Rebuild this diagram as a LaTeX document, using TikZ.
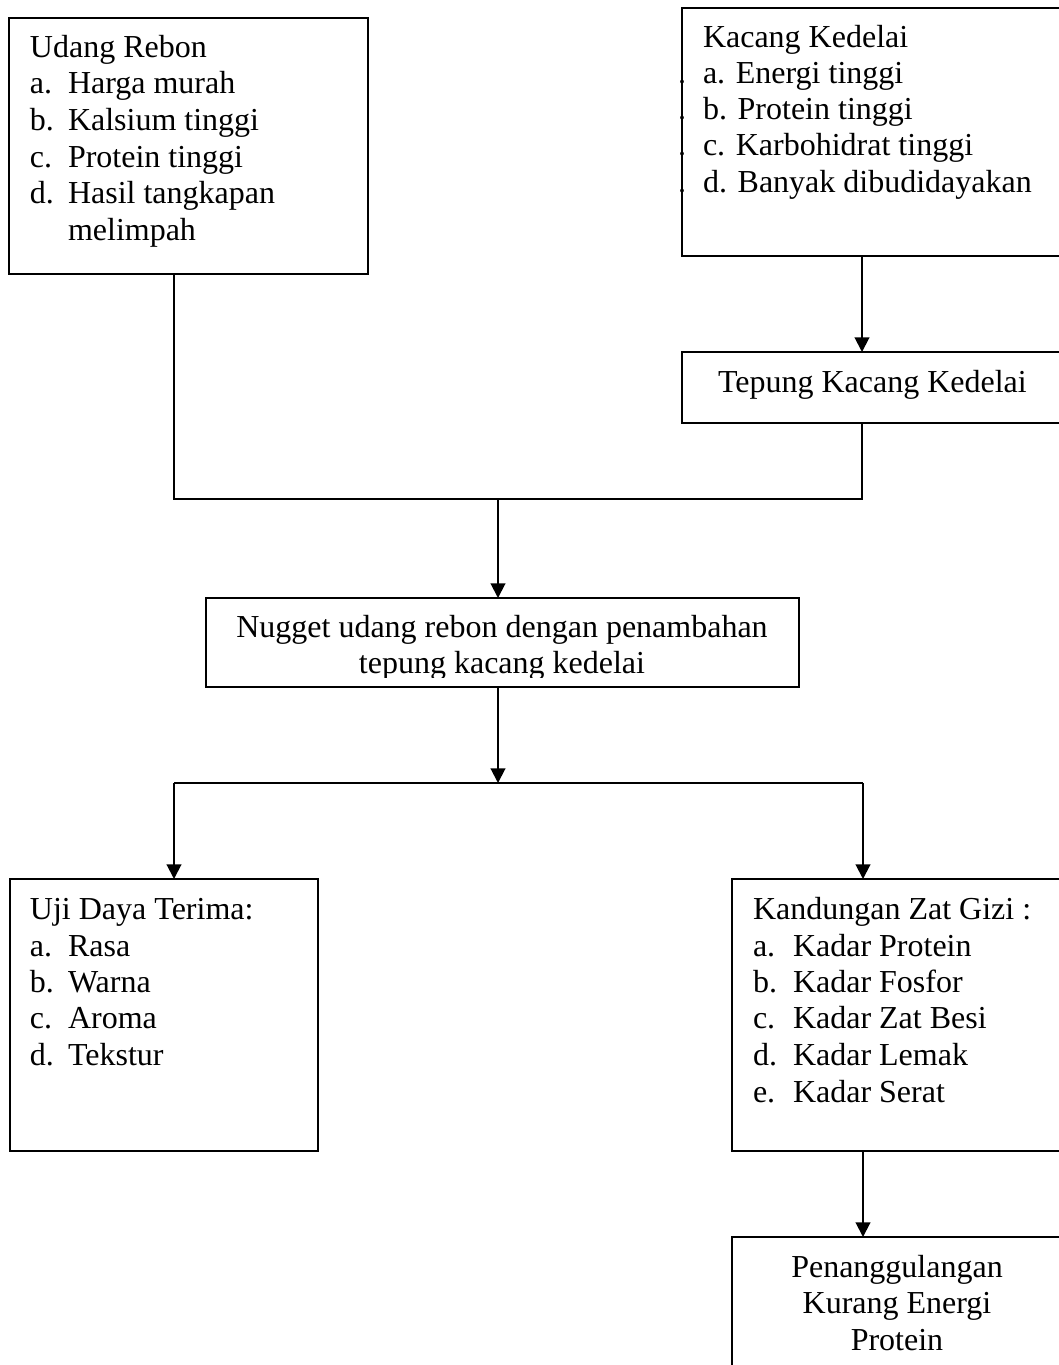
\documentclass[tikz,border=0pt]{standalone}
\usepackage{fontspec}
\setmainfont{Liberation Serif}
\usetikzlibrary{arrows.meta}
\tikzset{
  box/.style={draw, line width=1.5pt, rectangle, inner sep=0pt, outer sep=0pt, anchor=north west},
  txt/.style={anchor=base west, inner sep=0pt, outer sep=0pt, font=\fontsize{24}{28}\selectfont},
  ctxt/.style={anchor=base, inner sep=0pt, outer sep=0pt, font=\fontsize{24}{28}\selectfont},
  dtxt/.style={anchor=base east, inner sep=0pt, outer sep=0pt, font=\fontsize{24}{28}\selectfont},
  conn/.style={line width=1.5pt},
  arr/.style={line width=1.5pt, -{Triangle[length=11pt,width=11pt]}}
}
\begin{document}
\begin{tikzpicture}[x=0.75pt,y=-0.75pt]
\useasboundingbox (0,0) rectangle (1059,1365);
% boxes
\node[box, minimum width=359*0.75pt, minimum height=256*0.75pt] (udang) at (9,18) {};
\node[box, minimum width=420*0.75pt, minimum height=248*0.75pt] (kacang) at (682,8) {};
\node[box, minimum width=420*0.75pt, minimum height=71*0.75pt] (tepung) at (682,352) {};
\node[box, minimum width=593*0.75pt, minimum height=89*0.75pt] (nugget) at (206,598) {};
\node[box, minimum width=308*0.75pt, minimum height=272*0.75pt] (uji) at (10,879) {};
\node[box, minimum width=420*0.75pt, minimum height=272*0.75pt] (gizi) at (732,879) {};
\node[box, minimum width=420*0.75pt, minimum height=200*0.75pt] (kep) at (732,1237) {};

% Udang Rebon text
\node[txt] (u0) at (30,57) {Udang Rebon};
\node[txt] (u1a) at (30,93) {a.};  \node[txt] (u1) at (68,93) {Harga murah};
\node[txt] (u2a) at (30,130) {b.}; \node[txt] (u2) at (68,130) {Kalsium tinggi};
\node[txt] (u3a) at (30,167) {c.}; \node[txt] (u3) at (68,167) {Protein tinggi};
\node[txt] (u4a) at (30,203) {d.}; \node[txt] (u4) at (68,203) {Hasil tangkapan};
\node[txt] (u5) at (68,240) {melimpah};

% Kacang Kedelai text
\node[txt] (k0) at (703,47) {Kacang Kedelai};
\node[txt] (k1) at (703,83) {a. Energi tinggi};
\node[txt] (k2) at (703,119) {b. Protein tinggi};
\node[txt] (k3) at (703,155) {c. Karbohidrat tinggi};
\node[txt] (k4) at (703,192) {d. Banyak dibudidayakan};
\node[dtxt] (kd1) at (686,83) {.};
\node[dtxt] (kd2) at (686,119) {.};
\node[dtxt] (kd3) at (686,155) {.};
\node[dtxt] (kd4) at (686,192) {.};

% Tepung
\node[txt] (t0) at (718,392) {Tepung Kacang Kedelai};

% Nugget
\begin{scope}
\clip (206,598) rectangle (799,677);
\node[ctxt] (n1) at (502,637) {Nugget udang rebon dengan penambahan};
\node[ctxt] (n2) at (502,673) {tepung kacang kedelai};
\end{scope}

% Uji
\node[txt] (j0) at (30,919) {Uji Daya Terima:};
\node[txt] (j1a) at (30,956) {a.};  \node[txt] (j1) at (68,956) {Rasa};
\node[txt] (j2a) at (30,992) {b.};  \node[txt] (j2) at (68,992) {Warna};
\node[txt] (j3a) at (30,1028) {c.}; \node[txt] (j3) at (68,1028) {Aroma};
\node[txt] (j4a) at (30,1065) {d.}; \node[txt] (j4) at (68,1065) {Tekstur};

% Gizi
\node[txt] (g0) at (753,919) {Kandungan Zat Gizi :};
\node[txt] (g1a) at (753,956) {a.};  \node[txt] (g1) at (793,956) {Kadar Protein};
\node[txt] (g2a) at (753,992) {b.};  \node[txt] (g2) at (793,992) {Kadar Fosfor};
\node[txt] (g3a) at (753,1028) {c.}; \node[txt] (g3) at (793,1028) {Kadar Zat Besi};
\node[txt] (g4a) at (753,1065) {d.}; \node[txt] (g4) at (793,1065) {Kadar Lemak};
\node[txt] (g5a) at (753,1102) {e.}; \node[txt] (g5) at (793,1102) {Kadar Serat};

% Penanggulangan
\node[ctxt] (p1) at (897,1277) {Penanggulangan};
\node[ctxt] (p2) at (897,1313) {Kurang Energi};
\node[ctxt] (p3) at (897,1350) {Protein};

% connectors
\coordinate (lx) at (174,0);
\coordinate (rx) at (862,0);
\coordinate (rx2) at (863,0);
\coordinate (ja) at (498,499);
\coordinate (jb) at (498,783);
\coordinate (jl) at (174,783);
\coordinate (jr) at (863,783);

\draw[arr] (kacang.south -| rx) -- (tepung.north -| rx);
\draw[conn] (udang.south -| lx) |- (ja);
\draw[conn] (tepung.south -| rx) |- (ja);
\draw[arr] (ja) -- (nugget.north -| ja);
\draw[arr] (nugget.south -| jb) -- (jb);
\draw[conn] (jl) -- (jr);
\draw[arr] (jl) -- (uji.north -| jl);
\draw[arr] (jr) -- (gizi.north -| jr);
\draw[arr] (gizi.south -| rx2) -- (kep.north -| rx2);
\end{tikzpicture}
\end{document}
